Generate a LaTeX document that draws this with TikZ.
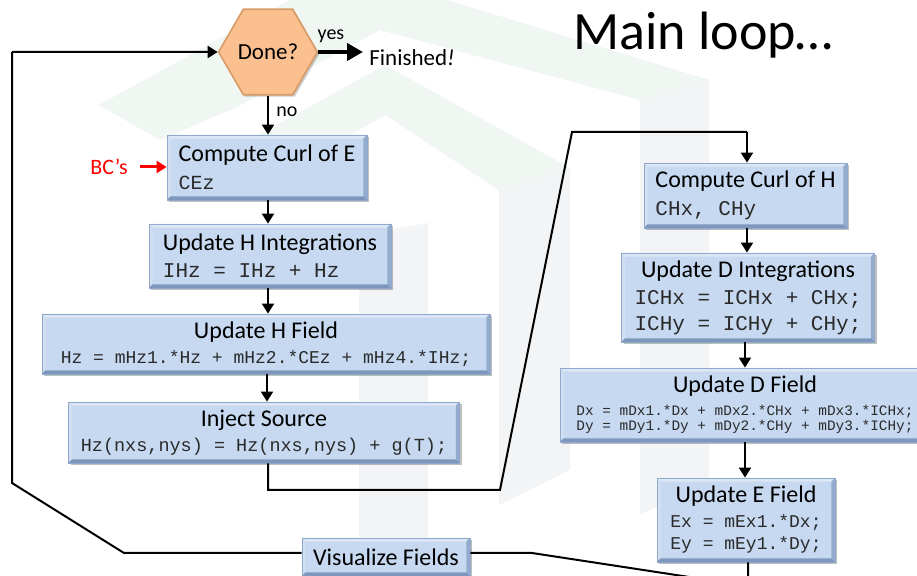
\documentclass[tikz,border=0pt]{standalone}
\usepackage{fontspec}
\setmainfont{Carlito}
\newfontfamily\codefont{Liberation Mono}
\usetikzlibrary{shapes.geometric,arrows.meta,shadows}
\definecolor{boxfill}{HTML}{C6D9F1}
\definecolor{boxedge}{HTML}{8FA9CC}
\definecolor{bevtop}{HTML}{DCE7F5}
\definecolor{bevleft}{HTML}{D2DFF1}
\definecolor{bevbot}{HTML}{7E97BD}
\definecolor{bevright}{HTML}{93ACCE}
\definecolor{hexfill}{HTML}{FAC090}
\definecolor{hexedge}{HTML}{D99A66}
\definecolor{wmgreen}{HTML}{F0F6F2}
\definecolor{wmgrey}{HTML}{F3F4F6}
\definecolor{codecol}{HTML}{2A2A2A}
\newcommand\codesz[1]{\color{codecol}\codefont\fontsize{#1}{#1}\selectfont}
\tikzset{
  flowbox/.style={fill=boxfill, draw=boxedge, line width=0.4pt, inner sep=0pt,
    font=\fontsize{12}{14}\selectfont,
    drop shadow={shadow xshift=1pt, shadow yshift=-1pt, fill=black, opacity=0.25},
    path picture={
      \fill[bevtop] (path picture bounding box.north west) -- (path picture bounding box.north east)
        -- ([shift={(-1.8pt,-1.8pt)}]path picture bounding box.north east)
        -- ([shift={(1.8pt,-1.8pt)}]path picture bounding box.north west) -- cycle;
      \fill[bevleft] (path picture bounding box.north west) -- ([shift={(1.8pt,-1.8pt)}]path picture bounding box.north west)
        -- ([shift={(1.8pt,1.8pt)}]path picture bounding box.south west) -- (path picture bounding box.south west) -- cycle;
      \fill[bevright] (path picture bounding box.north east) -- (path picture bounding box.south east)
        -- ([shift={(-1.8pt,1.8pt)}]path picture bounding box.south east)
        -- ([shift={(-1.8pt,-1.8pt)}]path picture bounding box.north east) -- cycle;
      \fill[bevbot] (path picture bounding box.south west) -- (path picture bounding box.south east)
        -- ([shift={(-1.8pt,1.8pt)}]path picture bounding box.south east)
        -- ([shift={(1.8pt,1.8pt)}]path picture bounding box.south west) -- cycle;
    }},
  arr/.style={line width=1pt, -{Triangle[length=5pt,width=6pt]}},
  conn/.style={line width=1pt, line join=miter},
  lbl/.style={inner sep=0pt, font=\fontsize{10}{12}\selectfont}
}
\begin{document}
\begin{tikzpicture}[x=0.5pt,y=-0.5pt]
\useasboundingbox (0,0) rectangle (917,576);
\clip (0,0) rectangle (917,576);
\fill[white] (0,0) rectangle (917,576);

% faint background watermark
\fill[wmgrey] (359,235) -- (428,223) -- (428,576) -- (359,576) -- cycle;
\fill[wmgrey] (499,190) -- (570,168) -- (570,470) -- (499,505) -- cycle;
\fill[wmgrey] (640,100) -- (709,80) -- (709,480) -- (640,515) -- cycle;
\fill[wmgreen] (99,105) -- (290,0) -- (447,0) -- (709,80) -- (640,100) -- (380,30) -- (237,107) -- (160,140) -- cycle;
\fill[wmgreen] (250,140) -- (385,65) -- (570,168) -- (499,190) -- (385,115) -- (285,172) -- cycle;

% title
\node[anchor=base west, inner sep=0pt, font=\fontsize{27}{30}\selectfont] (title) at (573,50) {Main loop…};

% decision
\node[regular polygon, regular polygon sides=6, minimum size=45.5pt, inner sep=0pt,
  fill=hexfill, draw=hexedge, line width=0.8pt,
  drop shadow={shadow xshift=1pt, shadow yshift=-1pt, fill=black, opacity=0.2},
  font=\fontsize{11.5}{13}\selectfont] (done) at (268,52) {Done?};
\node[anchor=west, inner sep=0pt, font=\fontsize{11.5}{13}\selectfont] (fin) at (369,58) {Finished\textit{!}};
\node[lbl] (yes) at (331,36) {yes};
\node[lbl] (no) at (287,112) {no};

% left column
\node[flowbox, minimum width=100pt, minimum height=32.5pt, align=left] (b1) at (267,167.5)
  {Compute Curl of E\\{\codesz{10}CEz}};
\node[flowbox, minimum width=121pt, minimum height=32pt, align=left] (b2) at (270,256)
  {Update H Integrations\\[-0.5pt]{\codesz{10.5}IHz = IHz + Hz}};
\node[flowbox, minimum width=224pt, minimum height=30pt, align=center] (b3) at (266,344)
  {Update H Field\\[-1.5pt]{\codesz{9}Hz = mHz1.*Hz + mHz2.*CEz + mHz4.*IHz;}};
\node[flowbox, minimum width=195.5pt, minimum height=30.5pt, align=center] (b4) at (264,432.5)
  {Inject Source\\[-1.5pt]{\codesz{9.25}Hz(nxs,nys) = Hz(nxs,nys) + g(T);}};

% right column
\node[flowbox, minimum width=101.5pt, minimum height=32.5pt, align=left] (b5) at (745.5,195.5)
  {Compute Curl of H\\{\codesz{10.5}CHx, CHy}};
\node[flowbox, minimum width=126.5pt, minimum height=44.5pt, align=center] (b6) at (748,297.5)
  {Update D Integrations\\[-0.5pt]{\codesz{10.5}ICHx = ICHx + CHx;}\\[-1pt]{\codesz{10.5}ICHy = ICHy + CHy;}};
\node[flowbox, minimum width=185pt, minimum height=37pt, align=center] (b7) at (745,405)
  {Update D Field\\[-2.5pt]{\codesz{7.2}Dx = mDx1.*Dx + mDx2.*CHx + mDx3.*ICHx;}\\[-6.5pt]{\codesz{7.2}Dy = mDy1.*Dy + mDy2.*CHy + mDy3.*ICHy;}};
\node[flowbox, minimum width=89pt, minimum height=42pt, align=center] (b8) at (746,520)
  {Update E Field\\[-1.5pt]{\codesz{9}Ex = mEx1.*Dx;}\\[-3pt]{\codesz{9}Ey = mEy1.*Dy;}};

% bottom
\node[flowbox, minimum width=84pt, minimum height=19pt] (vis) at (386,557) {Visualize Fields};

% BC's
\node[inner sep=0pt, text=red, font=\fontsize{11}{13}\selectfont] (bc) at (109,167) {BC’s};
\draw[red, line width=1.5pt, -{Triangle[length=5pt,width=6pt]}, shorten <=6pt] (bc.east) -- (b1.west |- bc.east);

% connectors
\draw[line width=2pt, -{Triangle[length=8pt,width=8.5pt]}] (done.east) -- ([xshift=-3pt]done.east -| fin.west);
\draw[arr] (done.south) -- (done.south |- b1.north);
\draw[arr] (b1.south -| done.south) -- (done.south |- b2.north);
\draw[arr] (b2.south -| done.south) -- (done.south |- b3.north);
\draw[arr] ([xshift=-0.5pt]b3.south -| done.south) -- ([xshift=-0.5pt]done.south |- b4.north);

\coordinate (m1) at (268,490);
\coordinate (m2) at (500,490);
\coordinate (m3) at (572,132);
\coordinate (m4) at (747,132);
\draw[conn] (b4.south -| m1) -- (m1) -- (m2) -- (m3) -- (m4);
\draw[arr] (m4) -- (m4 |- b5.north);
\draw[arr] (b5.south -| m4) -- (m4 |- b6.north);
\draw[arr] ([xshift=-1pt]b6.south -| m4) -- ([xshift=-1pt]m4 |- b7.north);
\draw[arr] ([xshift=-1pt]b7.south -| m4) -- ([xshift=-1pt]m4 |- b8.north);

\coordinate (r1) at (748,586);
\coordinate (r2) at (532,553);
\draw[conn] (b8.south -| r1) -- (r1) -- (r2) -- (r2 -| vis.east);

\coordinate (l1) at (124,553);
\coordinate (l2) at (12,483);
\coordinate (l3) at (12,52);
\draw[conn] (vis.west |- l1) -- (l1) -- (l2) -- (l3);
\draw[arr] (l3) -- (done.west);
\end{tikzpicture}
\end{document}
